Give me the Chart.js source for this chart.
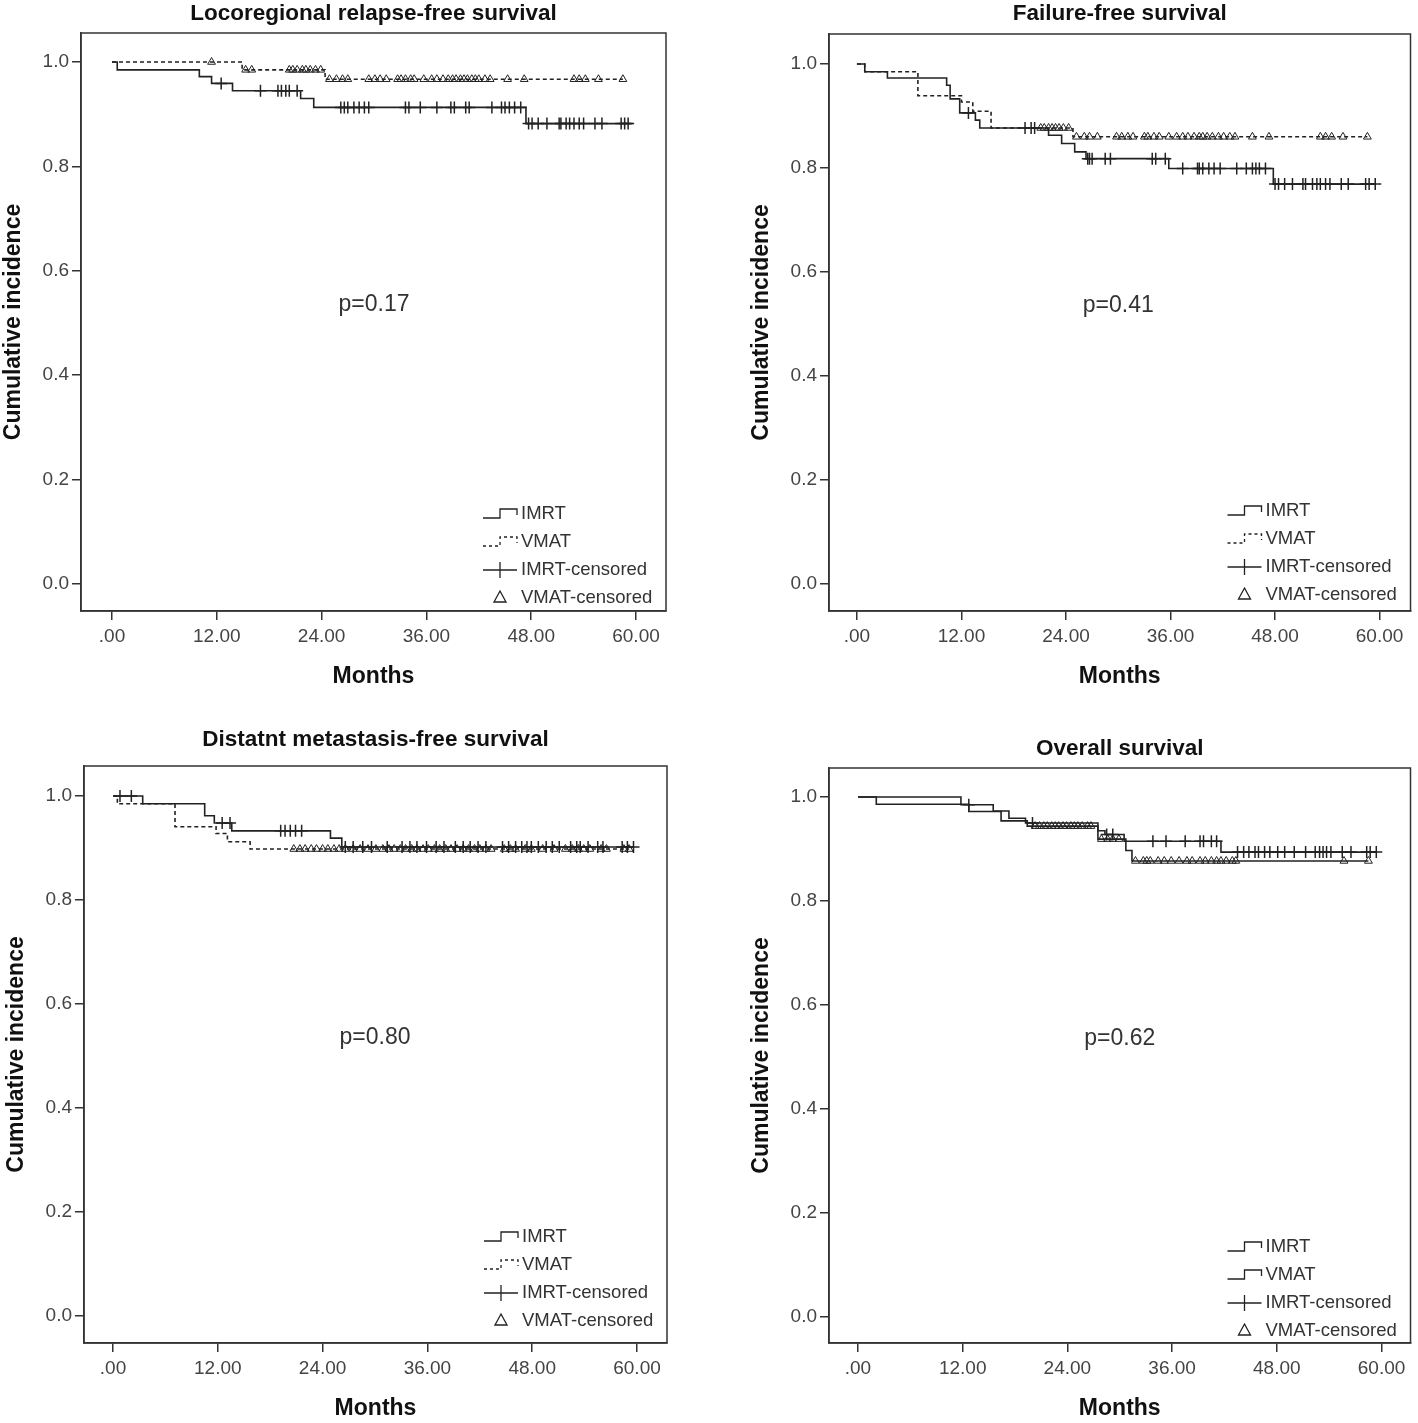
<!DOCTYPE html>
<html>
<head>
<meta charset="utf-8">
<script src="https://cdn.jsdelivr.net/npm/chart.js@4.4.1/dist/chart.umd.min.js"></script>
<style>
  html, body { margin: 0; padding: 0; background: #fff; }
  #wrap { position: relative; width: 1418px; height: 1423px; }
  canvas { position: absolute; }
</style>
</head>
<body>
<div id="wrap">
  <canvas id="c1" width="709" height="711" style="left:0;top:0"></canvas>
  <canvas id="c2" width="709" height="711" style="left:709px;top:0"></canvas>
  <canvas id="c3" width="709" height="712" style="left:0;top:711px"></canvas>
  <canvas id="c4" width="709" height="712" style="left:709px;top:711px"></canvas>
</div>
<script>
// ---------- data (months / survival proportion) ----------
const xTicks = [0, 12, 24, 36, 48, 60];
const yTicks = [0, 0.2, 0.4, 0.6, 0.8, 1.0];

// Locoregional relapse-free survival
const lrfsImrtT = [0, 0.6, 10.0, 11.4, 13.8, 21.6, 23.1, 47.4, 59.6];
const lrfsImrtS = [1, 0.985, 0.972, 0.959, 0.945, 0.930, 0.913, 0.882, 0.882];
const lrfsImrtCens = [12.5, 17.0, 19.0, 19.4, 19.9, 20.3, 21.2, 26.2, 26.6, 27.0, 27.7, 28.3, 28.9, 29.4,
  33.6, 34.0, 35.3, 37.2, 38.8, 39.2, 40.5, 40.9, 43.5, 44.6, 45.0, 45.5, 46.1, 46.8, 47.7, 48.1, 48.8,
  49.8, 51.2, 51.4, 52.0, 52.4, 52.9, 53.5, 54.0, 55.3, 56.1, 58.3, 58.7, 59.1];
const lrfsVmatT = [0, 14.9, 24.4, 58.5];
const lrfsVmatS = [1, 0.985, 0.967, 0.967];
const lrfsVmatCens = [11.4, 15.3, 16.0, 20.3, 20.7, 21.2, 21.8, 22.2, 22.7, 23.3, 23.9, 24.9, 25.7, 26.4,
  27.0, 29.4, 30.1, 30.7, 31.4, 32.7, 33.1, 33.6, 34.2, 34.6, 35.7, 36.6, 37.2, 37.9, 38.5, 39.0, 39.4,
  39.9, 40.3, 40.7, 41.2, 41.6, 42.0, 42.7, 43.3, 45.3, 47.2, 52.9, 53.5, 54.2, 55.7, 58.5];

// Failure-free survival
const ffsImrtT = [0, 0.9, 3.5, 10.3, 10.7, 11.8, 13.6, 14.1, 22.0, 23.5, 25.0, 26.3, 35.8, 47.8, 59.5];
const ffsImrtS = [1, 0.985, 0.973, 0.959, 0.933, 0.906, 0.892, 0.877, 0.863, 0.847, 0.831, 0.818, 0.799, 0.769, 0.769];
const ffsImrtCens = [12.8, 19.3, 20.0, 20.4, 26.5, 26.7, 27.0, 28.5, 29.1, 33.9, 34.3, 35.4, 37.4, 39.1,
  39.3, 39.7, 40.4, 41.0, 41.7, 43.6, 44.7, 45.4, 45.8, 46.2, 46.9, 48.0, 48.4, 49.1, 50.0, 51.2, 51.5,
  52.3, 52.8, 53.2, 53.8, 54.3, 55.6, 56.4, 58.4, 58.8, 59.5];
const ffsVmatT = [0, 0.9, 7.0, 12.0, 13.3, 15.4, 24.8, 58.6];
const ffsVmatS = [1, 0.985, 0.939, 0.927, 0.909, 0.877, 0.860, 0.860];
const ffsVmatCens = [21.1, 21.5, 22.0, 22.4, 22.8, 23.2, 23.7, 24.3, 25.2, 26.1, 26.7, 27.6, 29.8, 30.4,
  31.1, 31.7, 33.0, 33.4, 34.1, 34.7, 35.8, 36.7, 37.4, 38.0, 38.7, 39.3, 39.7, 40.2, 40.8, 41.5, 42.1,
  42.8, 43.4, 45.4, 47.3, 53.2, 53.8, 54.5, 55.8, 58.6];

// Distant metastasis-free survival
const dmfsImrtT = [0, 3.4, 10.5, 11.6, 13.6, 24.9, 26.2, 59.6];
const dmfsImrtS = [1, 0.985, 0.962, 0.948, 0.933, 0.919, 0.902, 0.902];
const dmfsImrtCens = [0.8, 2.1, 12.5, 13.4, 19.2, 19.7, 20.3, 20.9, 21.6, 26.6, 27.5, 28.6, 29.6, 31.4,
  33.1, 34.0, 34.8, 35.9, 37.0, 37.9, 39.2, 40.1, 40.9, 41.8, 42.7, 44.6, 45.3, 46.1, 46.8, 47.4, 47.9,
  48.7, 49.6, 50.3, 51.1, 52.4, 53.1, 53.5, 54.4, 55.5, 56.1, 58.3, 58.9, 59.6];
const dmfsVmatT = [0, 0.5, 7.1, 11.8, 13.1, 15.7, 59.1];
const dmfsVmatS = [1, 0.985, 0.941, 0.928, 0.912, 0.898, 0.898];
const dmfsVmatCens = [20.7, 21.4, 22.0, 22.7, 23.3, 24.0, 24.6, 25.3, 25.9, 26.6, 27.5, 28.3, 29.2, 30.1,
  30.9, 31.6, 32.2, 32.9, 33.5, 34.2, 34.8, 35.5, 36.1, 36.8, 37.4, 38.1, 38.7, 39.4, 40.1, 40.7, 41.4,
  42.0, 42.7, 43.3, 44.8, 45.5, 46.1, 47.2, 47.9, 49.2, 50.5, 51.8, 52.6, 53.3, 53.9, 54.6, 55.9, 56.5,
  58.5, 59.1];

// Overall survival
const osImrtT = [0, 11.8, 15.5, 17.3, 19.2, 27.5, 28.3, 30.5, 41.6, 59.4];
const osImrtS = [1, 0.985, 0.973, 0.959, 0.950, 0.935, 0.928, 0.915, 0.894, 0.894];
const osImrtCens = [12.7, 20.0, 28.5, 29.2, 33.8, 35.3, 37.5, 39.2, 39.6, 40.5, 41.1, 43.5, 44.2, 44.8,
  45.5, 45.9, 46.6, 47.2, 48.1, 48.9, 50.0, 51.3, 52.4, 52.9, 53.3, 53.7, 54.2, 55.5, 56.5, 58.3, 58.7, 59.4];
const osVmatT = [0, 2.1, 12.7, 16.4, 19.4, 27.5, 30.7, 31.4, 58.5];
const osVmatS = [1, 0.986, 0.972, 0.954, 0.944, 0.919, 0.897, 0.877, 0.877];
const osVmatCens = [20.3, 20.8, 21.3, 21.7, 22.2, 22.6, 23.0, 23.5, 23.9, 24.4, 24.8, 25.2, 25.7, 26.3,
  26.7, 27.9, 28.6, 29.2, 29.9, 31.8, 32.7, 33.1, 33.5, 34.4, 35.1, 35.9, 36.8, 37.7, 38.3, 39.2, 39.8,
  40.5, 41.1, 41.6, 42.2, 42.9, 43.3, 55.7, 58.5];

const legendLabels = ['IMRT', 'VMAT', 'IMRT-censored', 'VMAT-censored'];

// ---------- layout ----------
const FONT = "'Liberation Sans', Arial, sans-serif";
const INK = '#222';
const AXIS = '#333';

const panels = [
  { id: 'c1', title: 'Locoregional relapse-free survival', p: 'p=0.17',
    imrt: [lrfsImrtT, lrfsImrtS, lrfsImrtCens], vmat: [lrfsVmatT, lrfsVmatS, lrfsVmatCens], vmatDashed: true,
    cv: { x: 0, y: 0, w: 709, h: 711 }, box: { l: 81, t: 33, r: 666, b: 611 },
    x0: 112, x60: 636, y1: 62, y0: 584, titleY: 14, legendDy: 97 },
  { id: 'c2', title: 'Failure-free survival', p: 'p=0.41',
    imrt: [ffsImrtT, ffsImrtS, ffsImrtCens], vmat: [ffsVmatT, ffsVmatS, ffsVmatCens], vmatDashed: true,
    cv: { x: 709, y: 0, w: 709, h: 711 }, box: { l: 829, t: 34, r: 1412, b: 611 },
    x0: 857, x60: 1381, y1: 64, y0: 584, titleY: 14, legendDy: 100 },
  { id: 'c3', title: 'Distatnt metastasis-free survival', p: 'p=0.80',
    imrt: [dmfsImrtT, dmfsImrtS, dmfsImrtCens], vmat: [dmfsVmatT, dmfsVmatS, dmfsVmatCens], vmatDashed: true,
    cv: { x: 0, y: 711, w: 709, h: 712 }, box: { l: 84, t: 766, r: 667, b: 1343 },
    x0: 113, x60: 637, y1: 796, y0: 1316, titleY: 740, legendDy: 106 },
  { id: 'c4', title: 'Overall survival', p: 'p=0.62',
    imrt: [osImrtT, osImrtS, osImrtCens], vmat: [osVmatT, osVmatS, osVmatCens], vmatDashed: false,
    cv: { x: 709, y: 711, w: 709, h: 712 }, box: { l: 829, t: 768, r: 1411, b: 1343 },
    x0: 858, x60: 1382, y1: 797, y0: 1317, titleY: 749, legendDy: 96 }
];

// KM value at a censoring time = last step at or before it
function survAt(times, surv, t) {
  let s = surv[0];
  for (let i = 0; i < times.length; i++) if (times[i] <= t) s = surv[i];
  return s;
}

// Box, title, axis titles, p-value and SPSS style legend
const decorPlugin = {
  id: 'decor',
  afterDraw(chart, args, o) {
    const { ctx, chartArea: a, scales } = chart;
    ctx.save();
    ctx.strokeStyle = AXIS;
    ctx.lineWidth = 1.5;
    ctx.strokeRect(a.left, a.top, a.right - a.left, a.bottom - a.top);

    ctx.fillStyle = '#111';
    ctx.textAlign = 'center';
    ctx.textBaseline = 'middle';
    const cx = (a.left + a.right) / 2;
    ctx.font = `bold 22.5px ${FONT}`;
    ctx.fillText(o.title, cx, o.titleY);
    ctx.font = `bold 23px ${FONT}`;
    ctx.fillText('Months', cx, a.bottom + 66);
    ctx.save();
    ctx.translate(a.left - 67, (a.top + a.bottom) / 2);
    ctx.rotate(-Math.PI / 2);
    ctx.fillText('Cumulative incidence', 0, 0);
    ctx.restore();

    ctx.fillStyle = '#333';
    ctx.font = `23px ${FONT}`;
    ctx.fillText(o.p, scales.x.getPixelForValue(30), scales.y.getPixelForValue(0.535));

    // legend
    const R = a.right, sx = R - 183, mx = R - 166, ex = R - 149;
    ctx.font = `18.5px ${FONT}`;
    ctx.textAlign = 'left';
    ctx.strokeStyle = INK;
    ctx.lineWidth = 1.3;
    legendLabels.forEach((lab, k) => {
      const y = a.bottom - o.legendDy + k * 28;
      ctx.setLineDash(k === 1 && o.vmatDashed ? [3, 3] : []);
      ctx.beginPath();
      if (k < 2) {
        ctx.moveTo(sx, y + 4); ctx.lineTo(mx, y + 4); ctx.lineTo(mx, y - 5);
        ctx.lineTo(ex, y - 5); ctx.lineTo(ex, y + 1);
      } else if (k === 2) {
        ctx.moveTo(sx, y); ctx.lineTo(ex, y);
        ctx.moveTo(mx, y - 8); ctx.lineTo(mx, y + 8);
      } else {
        ctx.moveTo(mx, y - 7); ctx.lineTo(mx + 6, y + 4); ctx.lineTo(mx - 6, y + 4); ctx.closePath();
      }
      ctx.stroke();
      ctx.setLineDash([]);
      ctx.fillText(lab, R - 145, y);
    });
    ctx.restore();
  }
};

function buildChart(pn) {
  const { cv, box } = pn;
  const xPer = (pn.x60 - pn.x0) / 60;
  const yPer = pn.y0 - pn.y1;
  const xmin = (box.l - pn.x0) / xPer, xmax = (box.r - pn.x0) / xPer;
  const ymin = (pn.y0 - box.b) / yPer, ymax = (pn.y0 - box.t) / yPer;

  const curve = (g, dashed) => ({
    data: g[0].map((t, i) => ({ x: t, y: g[1][i] })),
    stepped: true, showLine: true, pointRadius: 0,
    borderColor: INK, borderWidth: 1.6, borderDash: dashed ? [4, 3] : [], fill: false
  });
  const marks = (g, style, r, w) => ({
    data: g[2].map(t => ({ x: t, y: survAt(g[0], g[1], t) })),
    showLine: false, pointStyle: style, pointRadius: r, borderColor: INK,
    backgroundColor: 'rgba(0,0,0,0)', pointBorderWidth: w
  });

  const tickFont = { family: FONT, size: 19 };
  return new Chart(document.getElementById(pn.id), {
    type: 'line',
    data: {
      datasets: [
        curve(pn.vmat, pn.vmatDashed),
        curve(pn.imrt, false),
        marks(pn.imrt, 'cross', 6, 1.5),
        marks(pn.vmat, 'triangle', 4.5, 1)
      ]
    },
    options: {
      responsive: false,
      devicePixelRatio: 1,
      animation: false,
      events: [],
      layout: { padding: { left: 0, top: box.t - cv.y, right: cv.x + cv.w - box.r, bottom: 0 } },
      plugins: {
        legend: { display: false },
        tooltip: { enabled: false },
        decor: { title: pn.title, titleY: pn.titleY - cv.y, p: pn.p, legendDy: pn.legendDy, vmatDashed: pn.vmatDashed }
      },
      scales: {
        x: {
          type: 'linear', min: xmin, max: xmax,
          afterBuildTicks: s => { s.ticks = xTicks.map(v => ({ value: v })); },
          afterFit: s => { s.height = cv.y + cv.h - box.b; },
          ticks: { callback: v => v === 0 ? '.00' : v.toFixed(2), font: tickFont, color: '#444', padding: 5, maxRotation: 0, autoSkip: false },
          grid: { drawOnChartArea: false, drawTicks: true, tickLength: 9, color: AXIS, lineWidth: 1.5 },
          border: { display: true, color: AXIS, width: 1.5 }
        },
        y: {
          type: 'linear', min: ymin, max: ymax,
          afterBuildTicks: s => { s.ticks = yTicks.map(v => ({ value: v })); },
          afterFit: s => { s.width = box.l - cv.x; },
          ticks: { callback: v => v.toFixed(1), font: tickFont, color: '#444', padding: 3, autoSkip: false },
          grid: { drawOnChartArea: false, drawTicks: true, tickLength: 9, color: AXIS, lineWidth: 1.5 },
          border: { display: true, color: AXIS, width: 1.5 }
        }
      }
    },
    plugins: [decorPlugin]
  });
}

panels.forEach(buildChart);
</script>
</body>
</html>
